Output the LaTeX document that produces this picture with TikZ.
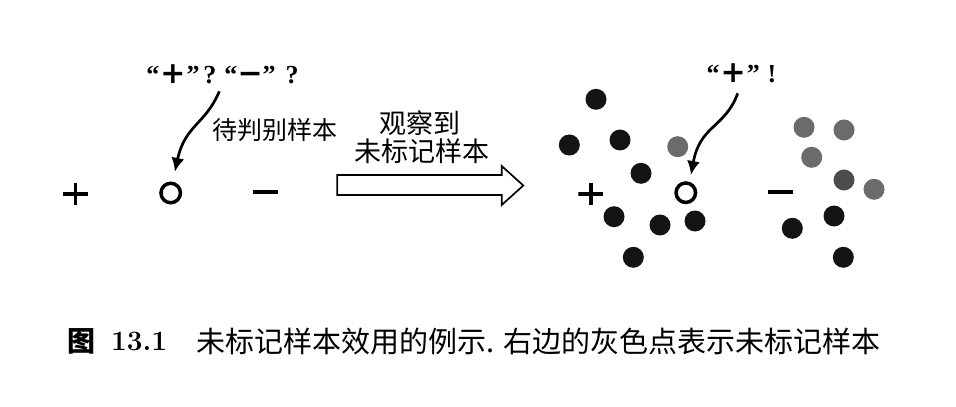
\documentclass[tikz,border=0pt]{standalone}
\usepackage{fontspec}
\usetikzlibrary{arrows.meta}
\newfontfamily\cjk{Noto Sans CJK SC}
\newfontfamily\tms{Liberation Serif}
\newfontfamily\dv{DejaVu Sans}
\newcommand{\bsym}[1]{{\dv\bfseries\fontsize{15pt}{16pt}\selectfont #1}}
\begin{document}
\begin{tikzpicture}[x=0.5pt,y=-0.5pt,
  plusmark/.style={inner sep=0pt, outer sep=0pt, minimum width=12.5pt, minimum height=11pt,
    path picture={\draw[line width=1.9pt] (path picture bounding box.west) -- (path picture bounding box.east)
      (path picture bounding box.north) -- (path picture bounding box.south);}},
  minusmark/.style={inner sep=0pt, outer sep=0pt, minimum width=12.5pt, minimum height=1.9pt, fill=black},
  sample/.style={circle, draw=black, line width=1.75pt, minimum size=9.75pt, inner sep=0pt},
  dot/.style={circle, fill=black!92, inner sep=0pt, minimum size=10.5pt},
  gdot/.style={circle, fill=black!58, inner sep=0pt, minimum size=10.5pt},
  gdotdark/.style={circle, fill=black!70, inner sep=0pt, minimum size=10.5pt},
  quote/.style={inner sep=0pt, font=\tms\bfseries\fontsize{13pt}{15pt}\selectfont},
  lbl/.style={inner sep=0pt, font=\cjk\fontsize{12.5pt}{15pt}\selectfont},
  arrlbl/.style={inner sep=0pt, font=\cjk\fontsize{13.5pt}{16pt}\selectfont},
  curvy/.style={line width=1.35pt, -{Latex[length=7pt,width=6.5pt]}},
  bigarrow/.style={draw=black, line width=0.85pt, line join=miter, fill=white}
]
\fill[white] (0,0) rectangle (956,406);
\useasboundingbox (0,0) rectangle (956,406);

% left part
\node[plusmark] (pL) at (75.5,194) {};
\node[sample] (cL) at (170.7,193) {};
\node[minusmark] (mL) at (265,192) {};
\node[quote] (qL) at (222.5,74) {“\kern0.5pt\bsym{+}\kern0.5pt”\kern2pt?\kern4pt“\bsym{−}”\kern5pt?};
\node[lbl] (tL) at (275,130) {待判别样本};
\draw[curvy, shorten <=4pt, shorten >=5pt] (qL.south) .. controls (205,125) and (185,125) .. (cL.80);

% big arrow
\node[arrlbl] (o1) at (420,123) {观察到};
\node[arrlbl] (o2) at (422,151) {未标记样本};
\draw[bigarrow] (337.3,175) -- (501.7,175) -- (501.7,166) -- (523.3,185.5) -- (501.7,205) -- (501.7,195) -- (337.3,195) -- cycle;

% right part
\node[plusmark] (pR) at (590.8,194) {};
\node[sample] (cR) at (685.8,192.7) {};
\node[minusmark] (mR) at (780.3,192) {};
\node[quote] (qR) at (741.5,73) {“\kern0.5pt\bsym{+}\kern0.5pt”\kern4pt!};
\draw[curvy, shorten <=5.5pt, shorten >=3.5pt] (qR.south) .. controls (725,128) and (700,125) .. (cR.70);

\node[dot] (d1) at (596,99.3) {};
\node[dot] (d2) at (569.3,145) {};
\node[dot] (d3) at (620,140) {};
\node[dot] (d4) at (641,173.3) {};
\node[dot] (d5) at (614,216.7) {};
\node[dot] (d6) at (660,225) {};
\node[dot] (d7) at (695,221) {};
\node[dot] (d8) at (633.3,257.3) {};
\node[dot] (d9) at (792.3,228.3) {};
\node[dot] (d10) at (834,216) {};
\node[dot] (d11) at (843.3,257.3) {};
\node[gdot] (g1) at (677.7,146.7) {};
\node[gdot] (g2) at (804,127.3) {};
\node[gdot] (g3) at (844,130) {};
\node[gdot] (g4) at (811.7,157.3) {};
\node[gdotdark] (g5) at (844,180) {};
\node[gdot] (g6) at (874,189.3) {};

% caption
\node[anchor=west, inner sep=0pt, font=\cjk\bfseries\fontsize{14pt}{16pt}\selectfont] (fig) at (67,341) {图};
\node[inner sep=0pt, font=\bfseries\fontsize{14pt}{16pt}\selectfont] (num) at (139.2,341) {13.1};
\node[anchor=west, inner sep=0pt, font=\cjk\fontsize{14.5pt}{17pt}\selectfont] (cap) at (196,341) {未标记样本效用的例示. 右边的灰色点表示未标记样本};
\end{tikzpicture}
\end{document}
